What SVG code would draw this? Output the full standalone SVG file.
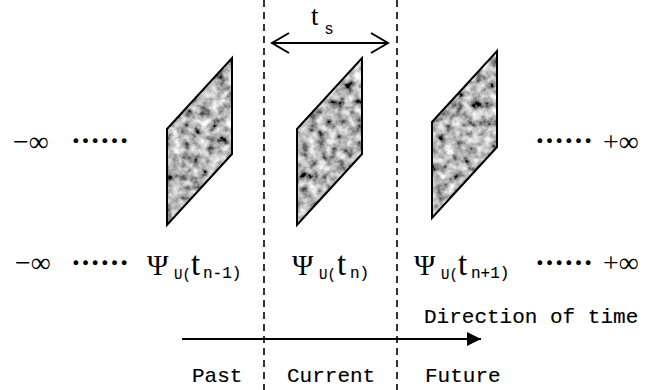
<svg xmlns="http://www.w3.org/2000/svg" width="651" height="390" viewBox="0 0 651 390">
<defs>
<style>
.dash{stroke:#000;stroke-width:1.6;stroke-dasharray:7,5;fill:none}
.mono{font-family:"Liberation Mono","DejaVu Sans Mono",monospace;fill:#000;stroke:#000;stroke-width:0.15}
.ser{font-family:"Liberation Serif","DejaVu Serif",serif;fill:#000}
.dots{font-family:"Noto Sans CJK SC",sans-serif;font-weight:bold;font-size:29px;fill:#000}
.frame{fill:none;stroke:#000;stroke-width:2;stroke-linejoin:miter}
.line{stroke:#000;stroke-width:2;fill:none}
</style>
<filter id="tex" x="0" y="0" width="1" height="1">
<feTurbulence type="fractalNoise" baseFrequency="0.11" numOctaves="3" seed="7" result="n"/>
<feColorMatrix in="n" type="matrix" values="1.6 0 0 0 -0.33  1.6 0 0 0 -0.33  1.6 0 0 0 -0.33  0 0 0 0 1" result="g"/>
<feComposite in="g" in2="SourceGraphic" operator="in"/>
</filter>
<marker id="head" markerWidth="14" markerHeight="14" refX="14" refY="7" orient="auto" markerUnits="userSpaceOnUse">
<path d="M0,0 L14,7 L0,14 Z" fill="#000"/>
</marker>
<marker id="openEnd" markerWidth="20" markerHeight="22" refX="18" refY="11" orient="auto-start-reverse" markerUnits="userSpaceOnUse">
<path d="M1,1 L18,11 L1,21" fill="none" stroke="#000" stroke-width="2"/>
</marker>
</defs>
<rect width="651" height="390" fill="#fff"/>

<g id="connectors">
<line class="dash" x1="264" y1="0" x2="264" y2="390"/>
<line class="dash" x1="397" y1="0" x2="397" y2="390"/>
<line class="line" x1="272" y1="43" x2="388" y2="43" marker-start="url(#openEnd)" marker-end="url(#openEnd)"/>
<line class="line" x1="182" y1="339" x2="481" y2="339" marker-end="url(#head)"/>
</g>

<g id="ts-label">
<text class="ser" x="311" y="25" font-size="27">t</text>
<text x="325" y="34" font-family="Liberation Sans,Arial,sans-serif" font-size="16">s</text>
</g>

<g id="frame-past">
<polygon points="167,129 232,58 232,154 167,225" fill="#999" filter="url(#tex)"/>
<polygon class="frame" points="167,129 232,58 232,154 167,225"/>
</g>
<g id="frame-current">
<polygon points="297,129 362,58 362,154 297,225" fill="#999" filter="url(#tex)"/>
<polygon class="frame" points="297,129 362,58 362,154 297,225"/>
</g>
<g id="frame-future">
<polygon points="432,122 497,51 497,147 432,218" fill="#999" filter="url(#tex)"/>
<polygon class="frame" points="432,122 497,51 497,147 432,218"/>
</g>

<g id="top-row">
<text class="ser" x="13" y="151" font-size="28">−∞</text>
<text class="dots" x="71" y="152">……</text>
<text class="dots" x="535" y="152">……</text>
<text class="ser" x="603" y="151" font-size="28">+∞</text>
</g>

<g id="bottom-row">
<text class="ser" x="15" y="272" font-size="28">−∞</text>
<text class="dots" x="71" y="274">……</text>
<g id="psi-past">
<text class="ser" x="147" y="275" font-size="29">Ψ</text>
<text class="mono" x="174" y="279" font-size="14">U(</text>
<text class="ser" x="191" y="275" font-size="33">t</text>
<text class="mono" x="203" y="278" font-size="16">n-1)</text>
</g>
<g id="psi-current">
<text class="ser" x="292" y="275" font-size="29">Ψ</text>
<text class="mono" x="319" y="279" font-size="14">U(</text>
<text class="ser" x="337" y="275" font-size="33">t</text>
<text class="mono" x="350" y="278" font-size="16">n)</text>
</g>
<g id="psi-future">
<text class="ser" x="414" y="275" font-size="29">Ψ</text>
<text class="mono" x="441" y="279" font-size="14">U(</text>
<text class="ser" x="458" y="275" font-size="33">t</text>
<text class="mono" x="471" y="278" font-size="16">n+1)</text>
</g>
<text class="dots" x="535" y="274">……</text>
<text class="ser" x="603" y="272" font-size="28">+∞</text>
</g>

<g id="labels">
<text class="mono" x="424" y="323" font-size="21">Direction of time</text>
<text class="mono" x="192" y="382" font-size="21">Past</text>
<text class="mono" x="287" y="382" font-size="21">Current</text>
<text class="mono" x="425" y="382" font-size="21">Future</text>
</g>
</svg>
